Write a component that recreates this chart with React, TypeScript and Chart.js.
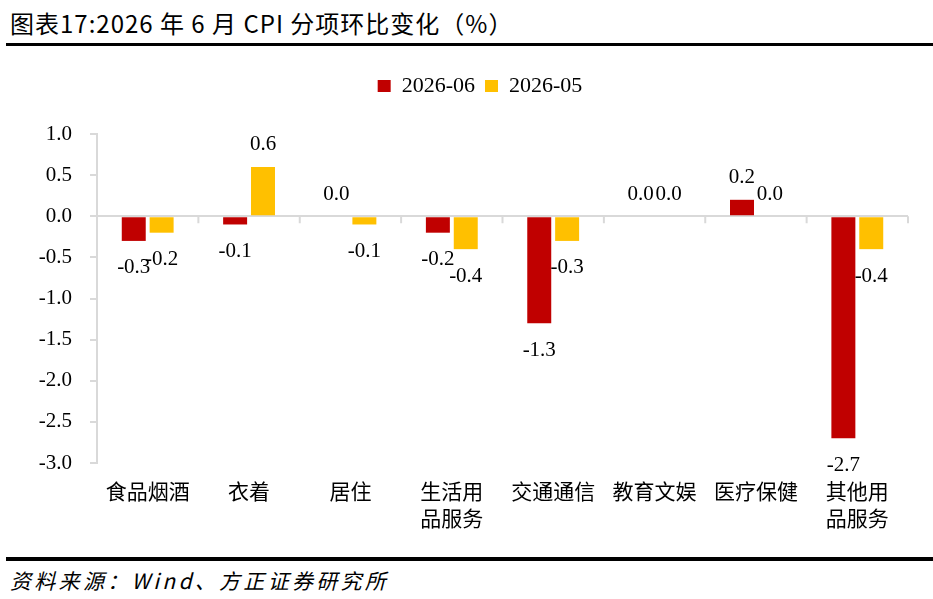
import React, { useEffect, useRef } from "react";
import { Chart, registerables } from "chart.js";

Chart.register(...registerables);

const categories = ["食品烟酒", "衣着", "居住", "生活用品服务", "交通通信", "教育文娱", "医疗保健", "其他用品服务"];
const tickLabels = [["食品烟酒"], ["衣着"], ["居住"], ["生活用", "品服务"], ["交通通信"], ["教育文娱"], ["医疗保健"], ["其他用", "品服务"]];
const seriesNames = ["2026-06", "2026-05"];
const june = [-0.3, -0.1, 0.0, -0.2, -1.3, 0.0, 0.2, -2.7];
const may = [-0.2, 0.6, -0.1, -0.4, -0.3, 0.0, 0.0, -0.4];
const yMin = -3.0;
const yMax = 1.0;
const yStep = 0.5;

const RED = "#C00000";
const YELLOW = "#FFC000";
const AXIS = "#D9D9D9";
const NUM_FONT = "'Liberation Serif', 'Times New Roman', serif";
const CJK_FONT = "'Noto Sans CJK SC', sans-serif";

const legendSpacer = {
  id: "legendSpacer",
  beforeInit(chart: any) {
    const legend = chart.legend;
    if (!legend) return;
    const orig = legend.fit;
    legend.fit = function () {
      orig.call(this);
      this.height = 69;
    };
  },
  afterLayout(chart: any) {
    const legend = chart.legend;
    if (!legend) return;
    legend.left += 12;
    legend.right += 12;
  },
};

const zeroTicks = {
  id: "zeroTicks",
  afterDatasetsDraw(chart: any) {
    const x = chart.scales.x;
    const y = chart.scales.y;
    const ctx = chart.ctx;
    const y0 = y.getPixelForValue(0);
    const n = chart.data.labels.length;
    ctx.save();
    ctx.strokeStyle = AXIS;
    ctx.lineWidth = 2;
    for (let i = 1; i <= n; i++) {
      let px: number;
      if (i < n) px = (x.getPixelForTick(i - 1) + x.getPixelForTick(i)) / 2;
      else px = chart.chartArea.right;
      ctx.beginPath();
      ctx.moveTo(px, y0);
      ctx.lineTo(px, y0 + 7);
      ctx.stroke();
    }
    ctx.restore();
  },
};

const valueLabels = {
  id: "valueLabels",
  afterDatasetsDraw(chart: any) {
    const ctx = chart.ctx;
    ctx.save();
    ctx.font = `21px ${NUM_FONT}`;
    ctx.fillStyle = "#000";
    ctx.textAlign = "center";
    ctx.textBaseline = "middle";
    chart.data.datasets.forEach((ds: any, di: number) => {
      const meta = chart.getDatasetMeta(di);
      meta.data.forEach((el: any, i: number) => {
        const v = ds.data[i];
        const ty = v >= 0 ? el.y - 22 : el.y + 27;
        ctx.fillText(v.toFixed(1), el.x, ty);
      });
    });
    ctx.restore();
  },
};

function BarChart() {
  const ref = useRef<HTMLCanvasElement | null>(null);
  useEffect(() => {
    if (!ref.current) return;
    const chart = new Chart(ref.current, {
      type: "bar",
      data: {
        labels: tickLabels as any,
        datasets: [
          {
            label: seriesNames[0],
            data: june,
            backgroundColor: RED,
            categoryPercentage: 0.55,
            barPercentage: 0.86,
          },
          {
            label: seriesNames[1],
            data: may,
            backgroundColor: YELLOW,
            categoryPercentage: 0.55,
            barPercentage: 0.86,
          },
        ],
      },
      options: {
        responsive: false,
        animation: false,
        devicePixelRatio: 1,
        layout: { padding: { top: 15, right: 25, left: 0, bottom: 0 } },
        plugins: {
          legend: {
            display: true,
            position: "top",
            align: "center",
            labels: {
              boxWidth: 13,
              boxHeight: 12,
              padding: 10,
              color: "#000",
              font: { family: NUM_FONT, size: 22 },
            },
          },
          tooltip: { enabled: false },
          title: { display: false },
        },
        scales: {
          x: {
            position: "bottom",
            grid: { display: false, drawTicks: false },
            border: { display: false },
            ticks: {
              autoSkip: false,
              maxRotation: 0,
              minRotation: 0,
              padding: 14,
              color: "#000",
              font: { family: CJK_FONT, size: 21, lineHeight: 1.3 },
            },
            afterFit: (scale: any) => {
              scale.height = 87;
            },
          },
          y: {
            min: yMin,
            max: yMax,
            ticks: {
              stepSize: yStep,
              padding: 18,
              color: "#000",
              font: { family: NUM_FONT, size: 21 },
              callback: (v: any) => Number(v).toFixed(1),
            },
            grid: {
              drawOnChartArea: true,
              drawTicks: true,
              tickLength: 7,
              lineWidth: 2,
              tickColor: AXIS,
              color: (c: any) => (c.tick && c.tick.value === 0 ? AXIS : "rgba(0,0,0,0)"),
            },
            border: { display: true, color: AXIS, width: 2 },
            afterFit: (scale: any) => {
              scale.width = 69;
            },
          },
        },
      },
      plugins: [legendSpacer, zeroTicks, valueLabels],
    } as any);
    return () => chart.destroy();
  }, []);
  return <canvas ref={ref} width={905} height={500} style={{ display: "block" }} />;
}

export default function App() {
  return (
    <div
      style={{
        position: "absolute",
        left: 0,
        top: 0,
        width: 933,
        height: 599,
        background: "#fff",
        overflow: "hidden",
      }}
    >
      <div
        style={{
          position: "absolute",
          left: 10,
          top: 8,
          height: 30,
          lineHeight: "30px",
          fontFamily: CJK_FONT,
          fontSize: 24,
          color: "#000",
          whiteSpace: "nowrap",
          letterSpacing: 1,
        }}
      >
        图表17:2026 年 6 月 CPI 分项环比变化（%）
      </div>
      <div style={{ position: "absolute", left: 6, top: 43, width: 927, height: 3, background: "#000" }} />
      <div style={{ position: "absolute", left: 28, top: 50, width: 905, height: 500 }}>
        <BarChart />
      </div>
      <div style={{ position: "absolute", left: 6, top: 557, width: 927, height: 4, background: "#000" }} />
      <div
        style={{
          position: "absolute",
          left: 10,
          top: 566,
          height: 28,
          lineHeight: "28px",
          fontFamily: CJK_FONT,
          fontSize: 21,
          fontStyle: "italic",
          letterSpacing: 3.3,
          color: "#000",
          whiteSpace: "nowrap",
        }}
      >
        资料来源：Wind、方正证券研究所
      </div>
    </div>
  );
}
